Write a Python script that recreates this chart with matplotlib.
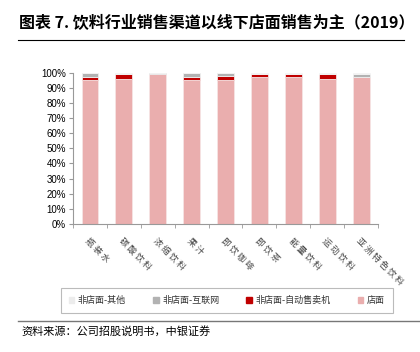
import numpy as np
import matplotlib.pyplot as plt
from matplotlib.lines import Line2D

plt.rcParams['font.family'] = ['Noto Sans CJK SC', 'DejaVu Sans']

cats = ['瓶装水', '碳酸饮料', '浓缩饮料', '果汁', '即饮咖啡', '即饮茶', '能量饮料', '运动饮料', '亚洲特色饮料']
store = [95.1, 96.2, 99.2, 95.1, 95.1, 97.3, 97.1, 96.2, 97.1]
vending = [2.2, 2.9, 0.1, 2.0, 2.9, 1.8, 2.2, 2.9, 0.0]
internet = [2.4, 0.2, 0.5, 2.6, 1.6, 0.4, 0.0, 0.0, 2.2]
other = [0.3, 0.7, 0.2, 0.3, 0.4, 0.5, 0.7, 0.9, 0.7]
series_names = ['非店面-其他', '非店面-互联网', '非店面-自动售卖机', '店面']
colors = ['#ececec', '#b2b2b2', '#c00000', '#eaaeae']

fig = plt.figure(figsize=(4.2, 3.52), dpi=100)
ax = fig.add_axes([0.174, 0.364, 0.726, 0.429])

x = np.arange(len(cats))
w = 0.5
b1 = np.array(store)
b2 = b1 + np.array(vending)
b3 = b2 + np.array(internet)
ax.bar(x, store, w, color=colors[3], edgecolor='#f6e4e4', linewidth=0.6)
ax.bar(x, vending, w, bottom=b1, color=colors[2], edgecolor='#f6e4e4', linewidth=0.6)
ax.bar(x, internet, w, bottom=b2, color=colors[1], edgecolor='#eeeeee', linewidth=0.6)
ax.bar(x, other, w, bottom=b3, color=colors[0], edgecolor='#f4f4f4', linewidth=0.6)

ax.set_xlim(-0.5, len(cats) - 0.5)
ax.set_ylim(0, 100)
ax.set_yticks(np.arange(0, 101, 10))
ax.set_yticklabels(['%d%%' % v for v in range(0, 101, 10)], fontsize=7, family='Liberation Sans')
ax.set_xticks(x)
# spaced-out characters like the reference
ax.set_xticklabels([' '.join(c) for c in cats], rotation=-45, ha='left', va='top',
                   rotation_mode='anchor', fontsize=6.3, color='#444444')
ax.tick_params(axis='x', length=0, pad=9)
ax.set_xticks(np.arange(-0.5, len(cats), 1), minor=True)
ax.tick_params(axis='x', which='minor', length=3, color='#999999')
ax.tick_params(axis='y', length=3, color='#999999', pad=2)
for s in ['top', 'right']:
    ax.spines[s].set_visible(False)
for s in ['left', 'bottom']:
    ax.spines[s].set_color('#999999')
    ax.spines[s].set_linewidth(0.8)

fig.text(0.045, 0.935, '图表 7. 饮料行业销售渠道以线下店面销售为主（2019）', fontsize=11.5, fontweight='bold', va='center')
fig.add_artist(Line2D([0.043, 0.962], [0.886, 0.886], color='black', linewidth=0.8))

handles = [plt.Rectangle((0, 0), 1, 1, color=c) for c in colors]
leg = fig.legend(handles, series_names, loc='center', bbox_to_anchor=(0.54, 0.147), ncol=4,
                 fontsize=6.5, frameon=True, fancybox=False, edgecolor='#aaaaaa',
                 handlelength=0.6, handleheight=0.6, handletextpad=0.4, columnspacing=3.0,
                 borderpad=0.9, labelcolor='#333333')
leg.get_frame().set_linewidth(0.8)

fig.add_artist(Line2D([0.043, 1.0], [0.088, 0.088], color='#777777', linewidth=1.0))
fig.text(0.05, 0.058, '资料来源：公司招股说明书，中银证券', fontsize=8, style='italic', va='center')

fig.savefig('out.png', dpi=100)
